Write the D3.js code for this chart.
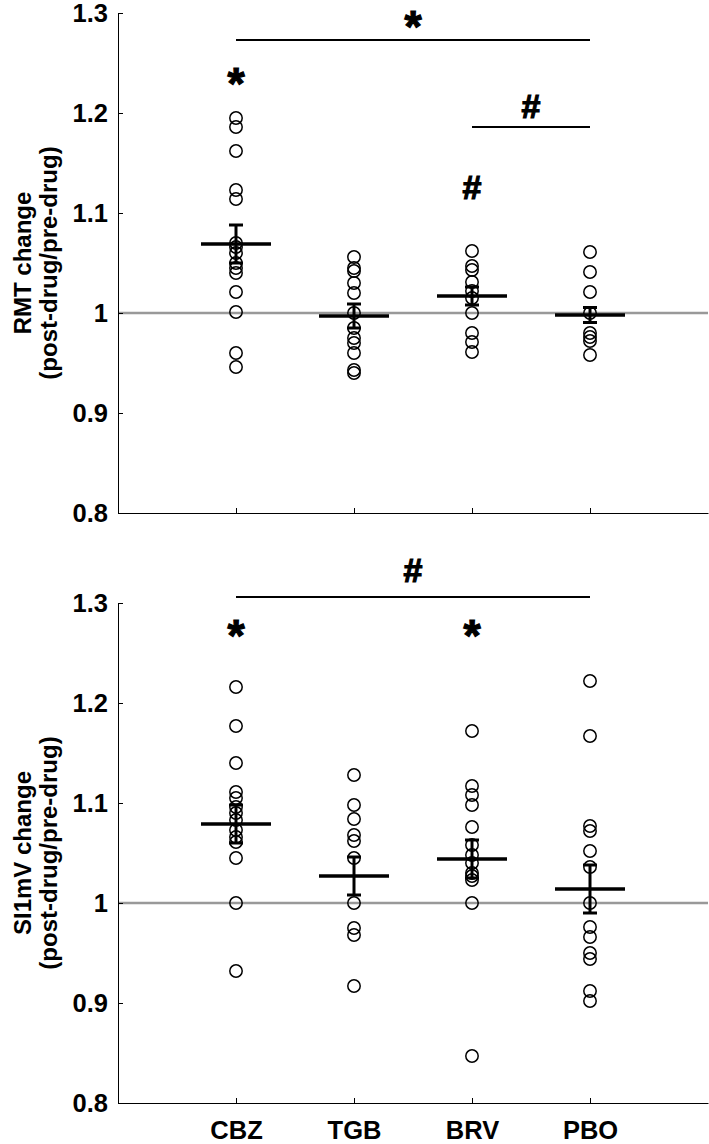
<!DOCTYPE html>
<html>
<head>
<meta charset="utf-8">
<script src="https://cdn.jsdelivr.net/npm/d3@7"></script>
<style>
  body { margin: 0; background: #fff; }
  svg text { font-family: "Liberation Sans", Arial, sans-serif; font-weight: bold; fill: #000; }
</style>
</head>
<body>
<div id="chart"></div>
<script>
// groups and y ticks
var drugs = ["CBZ", "TGB", "BRV", "PBO"];
var yTicks = [0.8, 0.9, 1.0, 1.1, 1.2, 1.3];

// RMT change, single subjects
var rmtCBZ = [1.195, 1.186, 1.162, 1.123, 1.114, 1.070, 1.066, 1.060, 1.050, 1.045, 1.040, 1.021, 1.001, 0.960, 0.946];
var rmtTGB = [1.056, 1.045, 1.042, 1.030, 1.020, 1.000, 0.985, 0.975, 0.970, 0.960, 0.943, 0.940];
var rmtBRV = [1.062, 1.047, 1.043, 1.031, 1.022, 1.015, 1.000, 0.980, 0.971, 0.961];
var rmtPBO = [1.061, 1.041, 1.021, 1.000, 0.980, 0.976, 0.972, 0.958];
var rmtMean = [1.069, 0.997, 1.017, 0.998];
var rmtSem = [0.019, 0.012, 0.009, 0.0075];

// SI1mV change, single subjects
var siCBZ = [1.216, 1.177, 1.140, 1.111, 1.105, 1.096, 1.090, 1.083, 1.073, 1.066, 1.061, 1.045, 1.000, 0.932];
var siTGB = [1.128, 1.098, 1.084, 1.068, 1.062, 1.045, 1.000, 0.975, 0.968, 0.917];
var siBRV = [1.172, 1.117, 1.108, 1.098, 1.076, 1.058, 1.048, 1.040, 1.030, 1.027, 1.023, 1.000, 0.847];
var siPBO = [1.222, 1.167, 1.077, 1.072, 1.052, 1.036, 1.000, 0.976, 0.966, 0.950, 0.944, 0.912, 0.902];
var siMean = [1.079, 1.027, 1.044, 1.014];
var siSem = [0.019, 0.019, 0.019, 0.024];

// significance marks: [text, x group, y value]
var rmtMarks = [["*", 2.5, 1.295], ["*", 1, 1.238], ["#", 3.5, 1.207], ["#", 3, 1.126]];
var rmtBars = [[1, 4, 1.273], [3, 4, 1.186]];
var siMarks = [["#", 2.5, 1.333], ["*", 1, 1.276], ["*", 3, 1.276]];
var siBars = [[1, 4, 1.306]];

var width = 709, height = 1144;
var svg = d3.select("#chart").append("svg")
  .attr("width", width)
  .attr("height", height);

var x = d3.scaleLinear().domain([0, 5]).range([118, 708]);

function panel(top, groups, means, sems, marks, bars, title, showLabels) {
  var y = d3.scaleLinear().domain([0.8, 1.3]).range([top + 500, top]);
  var g = svg.append("g");

  // reference line at 1
  g.append("line")
    .attr("x1", x(0)).attr("x2", x(5))
    .attr("y1", y(1)).attr("y2", y(1))
    .attr("stroke", "#999").attr("stroke-width", 2.5);

  var yAxis = d3.axisLeft(y).tickValues(yTicks)
    .tickSizeInner(-5).tickSizeOuter(0).tickPadding(10)
    .tickFormat(d3.format("~g"));
  var yg = g.append("g").attr("transform", "translate(" + x(0) + ",0)").call(yAxis);
  yg.selectAll("text").style("font-size", "25.5px");

  var xAxis = d3.axisBottom(x).tickValues([1, 2, 3, 4])
    .tickSizeInner(-5).tickSizeOuter(0).tickPadding(18)
    .tickFormat(function(d) { return showLabels ? drugs[d - 1] : ""; });
  var xg = g.append("g").attr("transform", "translate(0," + y(0.8) + ")").call(xAxis);
  xg.selectAll("text").style("font-size", "25.5px");
  g.selectAll(".domain, .tick line").attr("stroke", "#000").attr("stroke-width", 1);

  // single subject circles
  groups.forEach(function(vals, i) {
    g.selectAll(null).data(vals).enter().append("circle")
      .attr("cx", x(i + 1))
      .attr("cy", function(d) { return y(d); })
      .attr("r", 6.2)
      .attr("fill", "none")
      .attr("stroke", "#000")
      .attr("stroke-width", 1.5);
  });

  // mean +/- SEM
  var m = g.selectAll(".mean").data(means).enter().append("g").attr("class", "mean");
  m.append("line")
    .attr("x1", function(d, i) { return x(i + 1) - 35; })
    .attr("x2", function(d, i) { return x(i + 1) + 35; })
    .attr("y1", function(d) { return y(d); })
    .attr("y2", function(d) { return y(d); })
    .attr("stroke", "#000").attr("stroke-width", 3.5);
  m.append("line")
    .attr("x1", function(d, i) { return x(i + 1); })
    .attr("x2", function(d, i) { return x(i + 1); })
    .attr("y1", function(d, i) { return y(d + sems[i]); })
    .attr("y2", function(d, i) { return y(d - sems[i]); })
    .attr("stroke", "#000").attr("stroke-width", 3);
  [1, -1].forEach(function(s) {
    m.append("line")
      .attr("x1", function(d, i) { return x(i + 1) - 7; })
      .attr("x2", function(d, i) { return x(i + 1) + 7; })
      .attr("y1", function(d, i) { return y(d + s * sems[i]); })
      .attr("y2", function(d, i) { return y(d + s * sems[i]); })
      .attr("stroke", "#000").attr("stroke-width", 3);
  });

  // significance bars and symbols
  g.selectAll(".sig").data(bars).enter().append("line")
    .attr("x1", function(d) { return x(d[0]); })
    .attr("x2", function(d) { return x(d[1]); })
    .attr("y1", function(d) { return y(d[2]); })
    .attr("y2", function(d) { return y(d[2]); })
    .attr("stroke", "#000").attr("stroke-width", 2);
  g.selectAll(".mark").data(marks).enter().append("text")
    .attr("x", function(d) { return x(d[1]); })
    .attr("y", function(d) { return y(d[2]) + (d[0] == "*" ? 24 : 12); })
    .attr("text-anchor", "middle")
    .style("font-size", function(d) { return d[0] == "*" ? "44px" : "34px"; })
    .style("stroke", "#000")
    .style("stroke-width", 1.2)
    .text(function(d) { return d[0]; });

  // y title
  var t = g.append("text")
    .attr("transform", "translate(0," + y(1.05) + ") rotate(-90)")
    .attr("text-anchor", "middle")
    .style("font-size", "24px");
  t.append("tspan").attr("x", 0).attr("y", 31).text(title);
  t.append("tspan").attr("x", 0).attr("y", 57).text("(post-drug/pre-drug)");
}

panel(13, [rmtCBZ, rmtTGB, rmtBRV, rmtPBO], rmtMean, rmtSem, rmtMarks, rmtBars, "RMT change", false);
panel(603, [siCBZ, siTGB, siBRV, siPBO], siMean, siSem, siMarks, siBars, "SI1mV change", true);
</script>
</body>
</html>
